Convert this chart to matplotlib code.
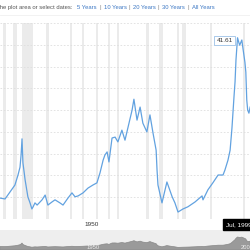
import matplotlib
matplotlib.use("Agg")
import matplotlib.pyplot as plt

plt.rcParams['font.family'] = ['Liberation Sans', 'DejaVu Sans']

# Dow to gold ratio
years = [1922.5, 1924.1, 1925.7, 1927.3, 1928.3, 1928.95, 1929.3, 1929.6, 1929.9, 1930.6,
         1931.5, 1932.2, 1932.8, 1933.2, 1933.8, 1934.5, 1936.1, 1937.1, 1938.0, 1939.3,
         1940.3, 1941.9, 1942.9, 1944.5, 1945.8, 1946.8, 1947.8, 1949.4, 1951.0, 1952.6,
         1953.9, 1954.9, 1955.9, 1956.5, 1957.2, 1957.8, 1958.8, 1959.8, 1960.7, 1962.0,
         1963.0, 1964.0, 1965.3, 1965.9, 1966.9, 1967.9, 1968.8, 1970.1, 1971.1, 1972.1,
         1973.1, 1973.4, 1973.7, 1975.0, 1976.6, 1978.3, 1979.2, 1980.2, 1981.8, 1983.4,
         1985.7, 1988.0, 1988.3, 1989.9, 1991.5, 1993.2, 1994.8, 1995.4, 1996.4, 1997.1,
         1997.7, 1998.4, 1998.7, 1999.0, 1999.5, 1999.9, 2000.2, 2000.9, 2001.2, 2001.9,
         2002.2, 2002.5, 2002.8, 2003.2, 2003.6]
ratio = [4.8, 4.6, 6.2, 7.8, 10.1, 11.9, 14.7, 18.4, 12.9, 9.0,
         5.1, 3.7, 2.3, 2.8, 3.7, 3.2, 4.4, 5.5, 3.2, 3.9,
         4.4, 3.7, 3.2, 4.8, 6.0, 5.1, 5.3, 6.0, 7.1, 7.8,
         8.3, 10.6, 13.5, 14.7, 15.4, 13.1, 18.6, 18.8, 17.7, 20.4,
         18.1, 21.1, 25.0, 27.5, 22.7, 25.7, 22.0, 20.0, 23.9, 19.7,
         15.8, 11.2, 7.8, 3.7, 8.5, 5.1, 3.7, 1.6, 2.3, 2.8,
         3.9, 5.3, 4.4, 6.7, 8.3, 10.1, 10.1, 11.2, 13.5, 15.8,
         20.9, 28.5, 31.5, 36.5, 41.61, 40.6, 39.9, 41.1, 39.5, 36.0,
         33.7, 27.3, 25.0, 24.3, 25.7]

# recessions (shaded)
rec_start = [1923.4, 1926.8, 1929.6, 1937.4, 1945.1, 1948.9, 1953.5, 1957.6, 1960.3,
             1969.9, 1973.9, 1980.0, 1981.5, 1990.5, 2001.2]
rec_end = [1924.5, 1927.9, 1933.2, 1938.5, 1945.8, 1949.8, 1954.4, 1958.3, 1961.1,
           1970.9, 1975.2, 1980.5, 1982.9, 1991.2, 2001.9]

peak_year, peak_val = 1999.5, 41.61
x_min, x_max = 1922.46, 2003.55
grid_vals = [0, 5, 10, 15, 20, 25, 30, 35, 40, 45]

fig = plt.figure(figsize=(2.5, 2.5), dpi=100)
W = 250.0

# header text
fig.text(73 / W, 1 - 7.5 / W, 'the plot area or select dates:', ha='right', va='center',
         fontsize=4.2, color='#555555')
links = [(77, '5 Years'), (104, '10 Years'), (133, '20 Years'), (162, '30 Years'), (192, 'All Years')]
for px, s in links:
    fig.text(px / W, 1 - 7.5 / W, s, ha='left', va='center', fontsize=4.2, color='#3d78c4')
for px in [100.5, 129.5, 158.5, 188.5]:
    fig.text(px / W, 1 - 7.5 / W, '|', ha='center', va='center', fontsize=4.2, color='#888888')
fig.add_artist(plt.Line2D([0, 1], [1 - 15 / W, 1 - 15 / W], color='#f0f0f0', lw=0.6))

# main chart
ax = fig.add_axes([0, 1 - 219 / W, 1, 196 / W])
for s, e in zip(rec_start, rec_end):
    ax.axvspan(s, e, color='#ebebeb', lw=0, zorder=0)
for g in grid_vals:
    ax.axhline(g, color='#dedede', lw=0.6, ls=(0, (2, 2)), zorder=1)
ax.plot(years, ratio, color='#62a2e0', lw=0.9, zorder=3)
ax.set_xlim(x_min, x_max)
ax.set_ylim(0, 45)
for sp in ax.spines.values():
    sp.set_visible(False)
ax.set_yticks([])
ax.set_xticks([1950])
ax.set_xticklabels(['1950'], fontsize=4.6, color='#333333')
ax.tick_params(axis='x', length=0, pad=2.5)
for lbl in ax.get_xticklabels():
    lbl.set_ha('left')

ax.annotate('%.2f' % peak_val, xy=(peak_year, peak_val), xytext=(-13, -2.5),
            textcoords='offset pixels', ha='center', va='center', fontsize=4.6, color='#333333',
            bbox=dict(boxstyle='square,pad=0.35', fc='white', ec='#9cc2e8', lw=0.6), zorder=5)

fig.text(226 / W, 1 - 224.5 / W, 'Jul, 1999', ha='left', va='center', fontsize=4.6,
         color='white', bbox=dict(boxstyle='square,pad=0.4', fc='black', ec='black'))

# navigator
nav = fig.add_axes([0, 0, 1, 20 / W])
nav.fill_between(years, -8.5, ratio, color='#9a9a9a', lw=0.5, edgecolor='#888888')
nav.set_xlim(x_min, x_max)
nav.set_ylim(-8.5, 68.7)
nav.axis('off')
nav.add_patch(plt.Rectangle((0, 0), 1, 1, transform=nav.transAxes, fc='#eeeeee', zorder=-1))
nav.text(1950.6, 3, '1950', fontsize=4.2, color='white', alpha=0.8, va='center')
nav.text(2000.6, 3, '2000', fontsize=4.2, color='white', alpha=0.8, va='center')

fig.savefig('out.png', dpi=100)
